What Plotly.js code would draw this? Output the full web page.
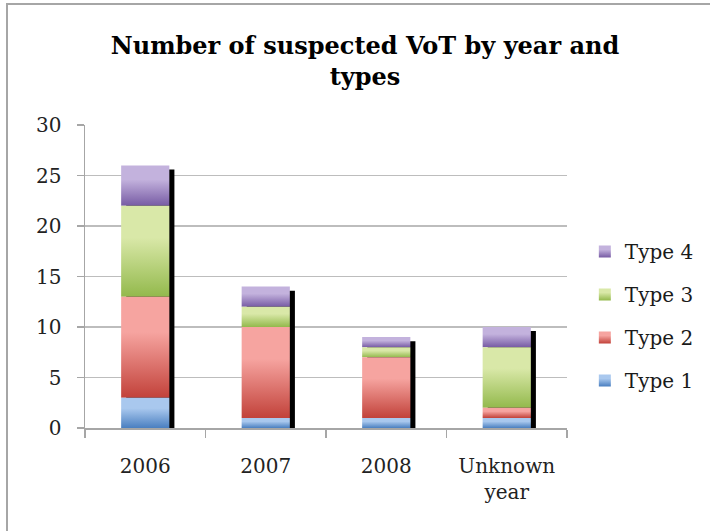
<!DOCTYPE html>
<html>
<head>
<meta charset="utf-8">
<script src="https://cdn.plot.ly/plotly-3.0.1.min.js"></script>
<style>
  html, body { margin: 0; padding: 0; background: #fff; }
  #wrap { position: relative; width: 710px; height: 531px; overflow: hidden; }
  #chart { width: 710px; height: 531px; }
  #frame { position: absolute; left: 6px; top: 3px; width: 760px; height: 600px;
           border-left: 2px solid #a6a6a6; border-top: 2px solid #a6a6a6; pointer-events: none; }
</style>
</head>
<body>
<div id="wrap">
  <div id="chart"></div>
  <div id="frame"></div>
</div>
<script>
// ---- data ----
const categories = ['2006', '2007', '2008', 'Unknown<br>year'];
const seriesNames = ['Type 1', 'Type 2', 'Type 3', 'Type 4'];
const type1 = [3, 1, 1, 1];
const type2 = [10, 9, 6, 1];
const type3 = [9, 2, 1, 6];
const type4 = [4, 2, 1, 2];
const yTickVals = [0, 5, 10, 15, 20, 25, 30];

// ---- styles ----
const series = [type1, type2, type3, type4];
const gradients = [
  ['#a9c8ee', '#4a7fc0'],
  ['#f6a4a0', '#c2423a'],
  ['#d9e8a8', '#93b94c'],
  ['#c3b2dd', '#775ba4']
];
const flatColors = ['#6f9ad6', '#e0706b', '#b7d27c', '#9a80c0'];
const barWidth = 0.4;
const shadowDx = 0.042;   // category units (~5px)
const shadowDy = 0.4;     // value units (~4px)
const FONT = 'DejaVu Serif, serif';

const totals = categories.map((_, i) => series.reduce((s, arr) => s + arr[i], 0));

// bases of each series (stacking computed from data)
const bases = [];
let running = categories.map(() => 0);
series.forEach(arr => {
  bases.push(running.slice());
  running = running.map((v, i) => v + arr[i]);
});

const traces = [];
const traceSeriesIndex = [];
// shadow trace
traces.push({
  type: 'bar',
  x: categories,
  y: totals,
  base: categories.map(() => -shadowDy),
  width: categories.map(() => barWidth),
  offset: categories.map(() => -barWidth / 2 + shadowDx),
  marker: { color: '#000', line: { width: 0 } },
  showlegend: false,
  hoverinfo: 'skip',
  cliponaxis: false
});
traceSeriesIndex.push(-1);
// series added top-down so the legend lists Type 4 first
for (let k = series.length - 1; k >= 0; k--) {
  traces.push({
    type: 'bar',
    name: seriesNames[k],
    x: categories,
    y: series[k],
    base: bases[k],
    width: categories.map(() => barWidth),
    marker: { color: flatColors[k], line: { width: 0 } },
    legendgroup: 'g' + k
  });
  traceSeriesIndex.push(k);
}

const layout = {
  width: 710,
  height: 531,
  margin: { l: 85, r: 143, t: 125, b: 103, autoexpand: false },
  paper_bgcolor: '#fff',
  plot_bgcolor: '#fff',
  barmode: 'overlay',
  font: { family: FONT, size: 20, color: '#1a1a1a' },
  title: {
    text: '<b>Number of suspected VoT by year and<br>types</b>',
    font: { family: FONT, size: 24, color: '#000' },
    xref: 'container', x: 365 / 710, xanchor: 'center',
    yref: 'container', y: 1 - 54 / 531, yanchor: 'middle'
  },
  xaxis: {
    type: 'category',
    categoryorder: 'array',
    categoryarray: categories,
    showline: true, linecolor: '#a6a6a6', linewidth: 1.5,
    ticks: 'outside', tickson: 'boundaries', ticklen: 8, tickcolor: '#a6a6a6', tickwidth: 1.5,
    showgrid: false, zeroline: false,
    ticklabelstandoff: 19,
    tickfont: { family: FONT, size: 20, color: '#222' },
    fixedrange: true
  },
  yaxis: {
    range: [0, 30],
    tickvals: yTickVals,
    showline: true, linecolor: '#a6a6a6', linewidth: 1.5,
    ticks: 'outside', ticklen: 7, tickcolor: '#a6a6a6', tickwidth: 1.5,
    showgrid: true, gridcolor: '#bdbdbd', gridwidth: 1.5,
    zeroline: false,
    ticklabelstandoff: 11,
    tickfont: { family: FONT, size: 20, color: '#222' },
    fixedrange: true
  },
  legend: {
    x: 1.037, xanchor: 'left', xref: 'paper',
    y: 0.37, yanchor: 'middle', yref: 'paper',
    traceorder: 'grouped',
    tracegroupgap: 14,
    font: { family: FONT, size: 20, color: '#1a1a1a' },
    bgcolor: 'rgba(0,0,0,0)'
  },
  showlegend: true
};

function applyGradients(gd) {
  const ns = 'http://www.w3.org/2000/svg';
  const svg = gd.querySelector('svg.main-svg');
  const defs = document.createElementNS(ns, 'defs');
  gradients.forEach((g, i) => {
    const lg = document.createElementNS(ns, 'linearGradient');
    lg.setAttribute('id', 'votgrad' + i);
    lg.setAttribute('x1', '0'); lg.setAttribute('y1', '0');
    lg.setAttribute('x2', '0'); lg.setAttribute('y2', '1');
    [[0, g[0]], [0.35, g[0]], [1, g[1]]].forEach(([o, c]) => {
      const st = document.createElementNS(ns, 'stop');
      st.setAttribute('offset', o);
      st.setAttribute('stop-color', c);
      lg.appendChild(st);
    });
    defs.appendChild(lg);
  });
  svg.insertBefore(defs, svg.firstChild);
  const traceGroups = gd.querySelectorAll('.barlayer .trace');
  traceGroups.forEach((tg, idx) => {
    const k = traceSeriesIndex[idx];
    if (k === undefined || k < 0) return;
    tg.querySelectorAll('path').forEach(p => { p.style.fill = 'url(#votgrad' + k + ')'; });
  });
  gd.querySelectorAll('.legend .traces').forEach(tr => {
    const t = tr.querySelector('.legendtext');
    if (!t) return;
    const k = seriesNames.indexOf(t.textContent);
    if (k < 0) return;
    tr.querySelectorAll('.legendpoints path').forEach(p => { p.style.fill = 'url(#votgrad' + k + ')'; });
  });
}

const gd = document.getElementById('chart');
Plotly.newPlot(gd, traces, layout, { displayModeBar: false, staticPlot: true }).then(() => applyGradients(gd));
</script>
</body>
</html>
